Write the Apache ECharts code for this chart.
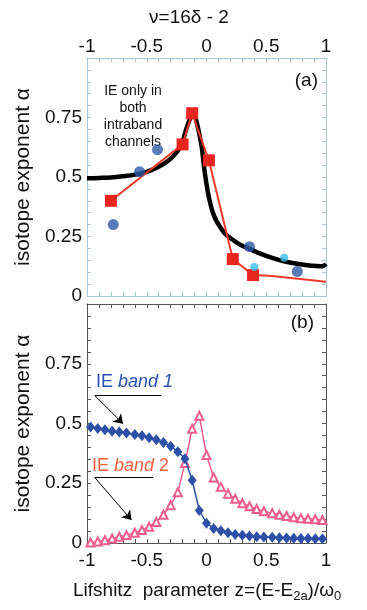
<!DOCTYPE html>
<html>
<head>
<meta charset="utf-8">
<script src="https://cdn.jsdelivr.net/npm/echarts@6/dist/echarts.min.js"></script>
<style>
html, body { margin: 0; padding: 0; background: #fff; }
#chart { width: 367px; height: 610px; }
</style>
</head>
<body>
<div id="chart"></div>
<script>
// panel (a): black fit curve, red squares, dark blue and light blue dots
const fitCurve = [
    [-1, 0.495], [-0.9, 0.496], [-0.8, 0.498], [-0.7, 0.503], [-0.6, 0.51], [-0.5, 0.522], [-0.4, 0.543],
    [-0.32, 0.568], [-0.26, 0.598], [-0.21, 0.635], [-0.17, 0.7], [-0.14, 0.742], [-0.11, 0.768],
    [-0.085, 0.735], [-0.06, 0.68], [-0.04, 0.626], [-0.02, 0.54], [0, 0.47], [0.02, 0.415],
    [0.05, 0.355], [0.08, 0.318], [0.11, 0.293], [0.15, 0.265], [0.2, 0.243], [0.28, 0.216],
    [0.36, 0.198], [0.45, 0.178], [0.55, 0.16], [0.64, 0.147], [0.72, 0.139], [0.8, 0.132],
    [0.88, 0.127], [0.95, 0.125], [0.98, 0.127], [1, 0.135]
]
const redSquares = [[-0.8, 0.40], [-0.2, 0.637], [-0.12, 0.768], [0.02, 0.57], [0.22, 0.155], [0.39, 0.088]]
const redTail = [[0.55, 0.084], [1, 0.06]]
const blueDots = [[-0.78, 0.30], [-0.56, 0.522], [-0.41, 0.615], [0.36, 0.207], [0.76, 0.103]]
const cyanDots = [[0.40, 0.122], [0.65, 0.161]]

// panel (b): band 1 (diamonds) and band 2 (triangles) on the same z grid
const zGrid = [-0.97, -0.91, -0.85, -0.79, -0.73, -0.67, -0.6, -0.54, -0.48, -0.42, -0.36, -0.3, -0.24,
    -0.18, -0.12, -0.06, 0, 0.06, 0.12, 0.18, 0.24, 0.3, 0.36, 0.42, 0.48, 0.55, 0.61, 0.67, 0.73,
    0.79, 0.85, 0.91, 0.97]
const band1 = [0.485, 0.479, 0.474, 0.468, 0.464, 0.46, 0.454, 0.449, 0.44, 0.432, 0.421, 0.405, 0.382,
    0.353, 0.263, 0.136, 0.083, 0.061, 0.051, 0.043, 0.036, 0.032, 0.029, 0.026, 0.025, 0.024, 0.022,
    0.021, 0.02, 0.019, 0.019, 0.018, 0.018]
const band2 = [0.002, 0.006, 0.012, 0.019, 0.026, 0.033, 0.043, 0.054, 0.068, 0.088, 0.118, 0.158, 0.212,
    0.335, 0.478, 0.532, 0.368, 0.274, 0.235, 0.206, 0.185, 0.166, 0.154, 0.142, 0.133, 0.125, 0.118,
    0.113, 0.108, 0.104, 0.101, 0.099, 0.096]

const xTicks = [-1, -0.5, 0, 0.5, 1]
const yTicks = [0, 0.25, 0.5, 0.75]

const FONT = 'Liberation Sans'
const frameA = '#a9c6d8'
const frameB = '#555'

function xAxis(grid, position, labels, color, margin) {
    return {
        type: 'value', gridIndex: grid, position: position, min: -1, max: 1, interval: 0.5,
        axisLine: { show: true, onZero: false, lineStyle: { color: color, width: 1 } },
        axisTick: { show: true, inside: true, length: 4, lineStyle: { color: color } },
        minorTick: { show: true, splitNumber: 5, length: 4, lineStyle: { color: color } },
        splitLine: { show: false },
        axisLabel: {
            show: labels, color: '#111', fontFamily: FONT, fontSize: 19, margin: margin,
            formatter: (v) => xTicks.indexOf(v) >= 0 ? String(v) : ''
        }
    }
}

function yAxis(grid, position, labels, color) {
    return {
        type: 'value', gridIndex: grid, position: position, min: 0, max: 1, interval: 0.25,
        axisLine: { show: true, onZero: false, lineStyle: { color: color, width: 1 } },
        axisTick: { show: true, inside: true, length: 4, lineStyle: { color: color } },
        minorTick: { show: true, splitNumber: 5, length: 4, lineStyle: { color: color } },
        splitLine: { show: false },
        axisLabel: {
            show: labels, color: '#111', fontFamily: FONT, fontSize: 19, margin: 5, showMaxLabel: false,
            formatter: (v) => yTicks.indexOf(v) >= 0 ? String(v) : ''
        },
        name: labels ? 'isotope exponent α' : '',
        nameLocation: 'middle', nameGap: 51,
        nameTextStyle: { color: '#111', fontFamily: FONT, fontSize: 21 }
    }
}

const chart = echarts.init(document.getElementById('chart'))

chart.setOption({
    animation: false,
    backgroundColor: '#fff',
    grid: [
        { left: 87, right: 41, top: 58, height: 238 },
        { left: 87, right: 41, top: 304, height: 239 }
    ],
    xAxis: [
        xAxis(0, 'top', true, frameA, 2),
        xAxis(0, 'bottom', false, frameA, 2),
        xAxis(1, 'bottom', true, frameB, 8),
        xAxis(1, 'top', false, frameB, 8)
    ],
    yAxis: [
        yAxis(0, 'left', true, frameA),
        yAxis(0, 'right', false, frameA),
        yAxis(1, 'left', true, frameB),
        yAxis(1, 'right', false, frameB)
    ],
    series: [
        {
            type: 'line', xAxisIndex: 0, yAxisIndex: 0, data: fitCurve, smooth: 0.4,
            showSymbol: false, lineStyle: { color: '#000', width: 4.5, join: 'round' }, z: 2
        },
        {
            type: 'line', xAxisIndex: 0, yAxisIndex: 0, symbol: 'rect', symbolSize: 12,
            data: redSquares.map(p => ({ value: p })).concat(redTail.map(p => ({ value: p, symbol: 'none' }))),
            itemStyle: { color: '#e8261f' }, lineStyle: { color: '#f03a2a', width: 2 }, z: 3
        },
        {
            type: 'scatter', xAxisIndex: 0, yAxisIndex: 0, data: blueDots, symbolSize: 11,
            itemStyle: { color: '#2f5aa9' }, z: 4
        },
        {
            type: 'scatter', xAxisIndex: 0, yAxisIndex: 0, data: cyanDots, symbolSize: 8,
            itemStyle: { color: '#35bdea' }, z: 4
        },
        {
            type: 'line', xAxisIndex: 2, yAxisIndex: 2, data: zGrid.map((z, i) => [z, band2[i]]),
            symbol: 'emptyTriangle', symbolSize: 8,
            itemStyle: { color: '#ee5d8e', borderWidth: 1 }, lineStyle: { color: '#ee5d8e', width: 1.5 }, z: 3,
            markLine: {
                silent: true, symbol: ['none', 'arrow'], symbolSize: 9, label: { show: false },
                lineStyle: { color: '#000', width: 1, type: 'solid' },
                data: [
                    [{ coord: [-0.935, 0.274] }, { coord: [-0.628, 0.096] }],
                    [{ coord: [-0.935, 0.274], symbol: 'none' }, { coord: [-0.447, 0.274], symbol: 'none' }]
                ]
            }
        },
        {
            type: 'line', xAxisIndex: 2, yAxisIndex: 2, data: zGrid.map((z, i) => [z, band1[i]]),
            symbol: 'diamond', symbolSize: [9, 11],
            itemStyle: { color: '#2c50a6' }, lineStyle: { color: '#2c50a6', width: 1.5 }, z: 4,
            markLine: {
                silent: true, symbol: ['none', 'arrow'], symbolSize: 9, label: { show: false },
                lineStyle: { color: '#000', width: 1, type: 'solid' },
                data: [
                    [{ coord: [-0.935, 0.617] }, { coord: [-0.698, 0.499] }],
                    [{ coord: [-0.935, 0.617], symbol: 'none' }, { coord: [-0.377, 0.617], symbol: 'none' }]
                ]
            }
        }
    ],
    graphic: [
        {
            type: 'text', x: 189, y: 8,
            style: { text: 'ν=16δ - 2', fontFamily: FONT, fontSize: 19, align: 'center', fill: '#111' }
        },
        {
            type: 'text', x: 133, y: 83,
            style: {
                text: 'IE only in\nboth\nintraband\nchannels', fontFamily: FONT, fontSize: 14,
                lineHeight: 17, align: 'center', fill: '#111'
            }
        },
        {
            type: 'text', x: 318, y: 71,
            style: { text: '(a)', fontFamily: FONT, fontSize: 19, align: 'right', fill: '#111' }
        },
        {
            type: 'text', x: 314, y: 313,
            style: { text: '(b)', fontFamily: FONT, fontSize: 19, align: 'right', fill: '#111' }
        },
        {
            type: 'text', x: 96, y: 373,
            style: {
                text: 'IE {i|band 1}', fontFamily: FONT, fontSize: 18, fill: '#2c50b0',
                rich: { i: { fontStyle: 'italic', fontFamily: FONT, fontSize: 18, fill: '#2c50b0' } }
            }
        },
        {
            type: 'text', x: 92, y: 457,
            style: {
                text: 'IE {i|band} 2', fontFamily: FONT, fontSize: 18, fill: '#f2603f',
                rich: { i: { fontStyle: 'italic', fontFamily: FONT, fontSize: 18, fill: '#f2603f' } }
            }
        },
        {
            type: 'text', x: 73, y: 578,
            style: {
                text: 'Lifshitz  parameter z=(E-E{s|2a})/ω{s|0}', fontFamily: FONT, fontSize: 19, fill: '#111',
                rich: { s: { fontFamily: FONT, fontSize: 13, fill: '#111', verticalAlign: 'bottom', padding: [12, 0, 0, 0] } }
            }
        }
    ]
})
</script>
</body>
</html>
